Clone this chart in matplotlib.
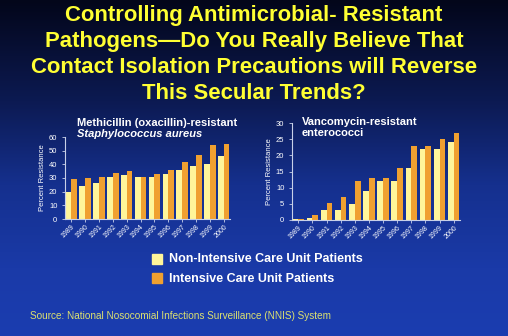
import numpy as np
import matplotlib
matplotlib.use("Agg")
import matplotlib.pyplot as plt
from matplotlib.colors import LinearSegmentedColormap

years = ["1989", "1990", "1991", "1992", "1993", "1994", "1995", "1996", "1997", "1998", "1999", "2000"]
mrsa_non_icu = [20, 24, 26.5, 30.5, 32, 31, 30.5, 33, 36, 39, 40, 46]
mrsa_icu = [29, 30, 31, 34, 35, 31, 33, 36, 42, 47, 54, 55]
vre_non_icu = [0.3, 0.7, 3, 3, 5, 9, 12, 12, 16, 22, 22, 24]
vre_icu = [0.3, 1.4, 5.3, 7, 12, 13, 13, 16, 23, 23, 25, 27]

title_lines = ["Controlling Antimicrobial- Resistant",
               "Pathogens\u2014Do You Really Believe That",
               "Contact Isolation Precautions will Reverse",
               "This Secular Trends?"]
legend_labels = ["Non-Intensive Care Unit Patients", "Intensive Care Unit Patients"]
source = "Source: National Nosocomial Infections Surveillance (NNIS) System"

plt.rcParams['font.family'] = ['Liberation Sans', 'DejaVu Sans']

W, H = 508, 336
fig = plt.figure(figsize=(W / 100, H / 100), dpi=100)

# background gradient
bg = fig.add_axes([0, 0, 1, 1])
cmap = LinearSegmentedColormap.from_list(
    "bg", [(0, "#03061a"), (0.3, "#0c1a52"), (0.55, "#15308e"), (0.8, "#1a3aa8"), (1, "#1b3db0")])
grad = np.linspace(0, 1, 256).reshape(-1, 1)
bg.imshow(grad, aspect="auto", cmap=cmap, extent=[0, 1, 1, 0])
bg.set_axis_off()

c_non = "#fff59a"
c_icu = "#f0a030"
yellow = "#ffff33"

for i, line in enumerate(title_lines):
    fig.text(0.5, 1 - (15.5 + 26 * i) / H, line, ha="center", va="center", color=yellow,
             fontsize=15.9, fontweight="bold")


def panel(rect, non, icu, ymax, step):
    ax = fig.add_axes(rect)
    ax.set_facecolor("none")
    x = np.arange(len(years))
    w = 0.41
    ax.bar(x - w / 2, non, w, color=c_non, edgecolor="none")
    ax.bar(x + w / 2, icu, w, color=c_icu, edgecolor="none")
    ax.set_xlim(-0.45, len(years) - 0.55)
    ax.set_ylim(0, ymax)
    ax.set_yticks(np.arange(0, ymax + 1, step))
    ax.set_xticks(x)
    ax.set_xticklabels(years, rotation=45, ha="right", rotation_mode="anchor")
    for s in ["top", "right"]:
        ax.spines[s].set_visible(False)
    for s in ["left", "bottom"]:
        ax.spines[s].set_color("#c8d0e8")
        ax.spines[s].set_linewidth(0.8)
    ax.tick_params(colors="#c8d0e8", labelcolor="white", labelsize=5.5, length=2, width=0.6)
    ax.tick_params(axis="x", labelsize=5, pad=1)
    ax.set_ylabel("Percent Resistance", color="white", fontsize=5.5, labelpad=2)
    return ax


ax1 = panel([65 / W, 1 - 219 / H, 165 / W, 82 / H], mrsa_non_icu, mrsa_icu, 60, 10)
ax2 = panel([292 / W, 1 - 220 / H, 168 / W, 97 / H], vre_non_icu, vre_icu, 30, 5)

fig.text(77 / W, 1 - 123 / H, "Methicillin (oxacillin)-resistant", color="white",
         fontsize=8, fontweight="bold", va="center")
fig.text(77 / W, 1 - 134 / H, "Staphylococcus aureus", color="white",
         fontsize=8, fontweight="bold", style="italic", va="center")
fig.text(302 / W, 1 - 122 / H, "Vancomycin-resistant", color="white",
         fontsize=8, fontweight="bold", va="center")
fig.text(302 / W, 1 - 133 / H, "enterococci", color="white",
         fontsize=8, fontweight="bold", va="center")

# legend
for i, (lab, col) in enumerate(zip(legend_labels, [c_non, c_icu])):
    yc = 258.5 + i * 19
    fig.patches.append(plt.Rectangle((152 / W, 1 - (yc + 5) / H), 10 / W, 10 / H,
                                     transform=fig.transFigure, color=col))
    fig.text(169 / W, 1 - (yc + 1) / H, lab, color="white", fontsize=9,
             fontweight="bold", va="center")

fig.text(30 / W, 1 - 316 / H, source, color="#dce070", fontsize=7.2, va="center")

fig.savefig("out.png", dpi=100)
